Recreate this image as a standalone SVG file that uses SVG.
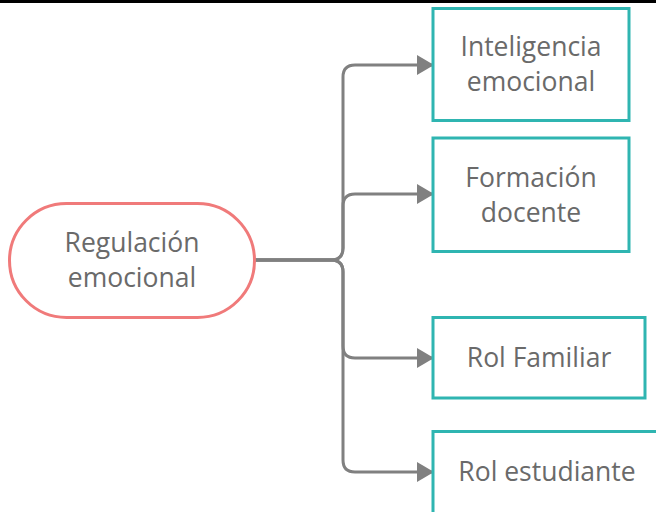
<svg xmlns="http://www.w3.org/2000/svg" width="656" height="512" viewBox="0 0 656 512">
<defs>
<style>
.box{fill:#ffffff;stroke:#2fb5b1;stroke-width:3}
.pill{fill:#ffffff;stroke:#f07a7a;stroke-width:3}
.lbl{font-family:"Open Sans","Noto Sans",sans-serif;font-size:26.5px;fill:#6a6a6a;text-anchor:middle}
.conn{fill:none;stroke:#808080;stroke-width:3}
</style>
<marker id="arr" markerWidth="17" markerHeight="20" refX="17" refY="10" orient="auto" markerUnits="userSpaceOnUse">
<path d="M0,0 L17,10 L0,20 Z" fill="#808080"/>
</marker>
</defs>
<rect width="656" height="512" fill="#ffffff"/>
<rect x="0" y="0" width="656" height="3" fill="#000000"/>
<g id="connectors">
<path class="conn" marker-end="url(#arr)" d="M255,260 H331 Q343,260 343,248 V77 Q343,65 355,65 H434"/>
<path class="conn" marker-end="url(#arr)" d="M255,260 H331 Q343,260 343,248 V206 Q343,194 355,194 H434"/>
<path class="conn" marker-end="url(#arr)" d="M255,260 H331 Q343,260 343,272 V346 Q343,358 355,358 H434"/>
<path class="conn" marker-end="url(#arr)" d="M255,260 H331 Q343,260 343,272 V460 Q343,472 355,472 H434"/>
</g>
<g id="regulacion">
<rect class="pill" x="9.5" y="203.5" width="245" height="114" rx="57" ry="57"/>
<text class="lbl" x="132" y="252">Regulación</text>
<text class="lbl" x="132" y="287">emocional</text>
</g>
<g id="inteligencia">
<rect class="box" x="433" y="8.5" width="196" height="112"/>
<text class="lbl" x="531" y="56">Inteligencia</text>
<text class="lbl" x="531" y="91">emocional</text>
</g>
<g id="formacion">
<rect class="box" x="433" y="138" width="196" height="113.5"/>
<text class="lbl" x="531" y="187">Formación</text>
<text class="lbl" x="531" y="222">docente</text>
</g>
<g id="rolfamiliar">
<rect class="box" x="433" y="317.5" width="212" height="80.5"/>
<text class="lbl" x="539" y="367">Rol Familiar</text>
</g>
<g id="rolestudiante">
<rect class="box" x="433" y="431.5" width="226" height="84"/>
<text class="lbl" x="547" y="481">Rol estudiante</text>
</g>
</svg>
